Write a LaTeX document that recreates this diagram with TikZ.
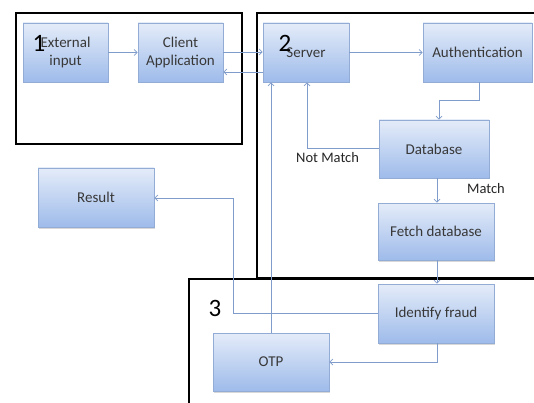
\documentclass[tikz,border=0pt]{standalone}
\usepackage{fontspec}
\setmainfont{Carlito}
\usetikzlibrary{arrows.meta,shadows}
\definecolor{boxtop}{HTML}{E4ECF9}
\definecolor{boxbot}{HTML}{9EBBEA}
\definecolor{boxline}{HTML}{93ACD6}
\definecolor{wire}{HTML}{7F9CCB}
\definecolor{boxtext}{HTML}{383838}
\tikzset{
  stage/.style={draw=boxline, line width=0.6pt, top color=boxtop, bottom color=boxbot,
    text=boxtext, font=\fontsize{15}{18}\selectfont, align=center, inner sep=0pt,
    drop shadow={shadow xshift=1pt, shadow yshift=-1.5pt, opacity=0.25, fill=black!60}},
  wireline/.style={draw=wire, line width=0.7pt, -{Straight Barb[length=3pt,width=6pt]}},
  frame/.style={draw=black, line width=1.8pt},
  tag/.style={font=\fontsize{25}{25}\selectfont, text=black, inner sep=0pt},
  note/.style={font=\fontsize{14.5}{17}\selectfont, text=black!85, inner sep=0pt}
}
\begin{document}
\begin{tikzpicture}[x=1pt,y=-1pt]
\useasboundingbox (0,0) rectangle (534,403);
\fill[white] (0,0) rectangle (534,403);

% stage frames
\draw[frame] (16,13) rectangle (242,144);
\draw[frame] (538,13) -- (257,13) -- (257,278) -- (538,278);
\draw[frame] (189,408) -- (189,279) -- (538,279);

% blocks
\node[stage, minimum width=85pt, minimum height=59pt] (ext) at (65.5,52.5) {External\\input};
\node[stage, minimum width=85pt, minimum height=59pt] (client) at (180.5,52.5) {Client\\Application};
\node[stage, minimum width=86pt, minimum height=59pt] (server) at (306,52.5) {Server};
\node[stage, minimum width=109pt, minimum height=59pt] (auth) at (477.5,52.5) {Authentication};
\node[stage, minimum width=110pt, minimum height=58pt] (db) at (434,149) {Database};
\node[stage, minimum width=116pt, minimum height=57pt] (fetch) at (436,231.5) {Fetch database};
\node[stage, minimum width=116pt, minimum height=59pt] (fraud) at (436,313.5) {Identify fraud};
\node[stage, minimum width=116pt, minimum height=58pt] (otp) at (271,362) {OTP};
\node[stage, minimum width=116pt, minimum height=59pt] (result) at (96,197.5) {Result};

% stage numbers
\node[tag] (n1) at (39,43) {1};
\node[tag] (n2) at (285,43) {2};
\node[tag] (n3) at (215,308) {3};

% connectors
\draw[wireline] (ext.east) -- (client.west);
\draw[wireline] (client.east |- 0,52) -- (server.west |- 0,52);
\draw[wireline] (server.west |- 0,72) -- (client.east |- 0,72);
\draw[wireline] (server.east) -- (auth.west);
\draw[wireline] (auth.south -| 479,0) -- (479,100) -- (439,100) -- (db.north -| 439,0);
\draw[wireline] (db.west |- 0,148) -- (307,148) -- (server.south -| 307,0);
\draw[wireline] (db.south -| 437,0) -- (fetch.north -| 437,0);
\draw[wireline] (fetch.south -| 437,0) -- (fraud.north -| 437,0);
\draw[wireline] (fraud.west |- 0,313) -- (233,313) -- (233,198) -- (result.east |- 0,198);
\draw[wireline] (otp.north -| 271,0) -- (server.south -| 271,0);
\draw[wireline] (fraud.south -| 437,0) -- (437,362) -- (otp.east |- 0,362);

% branch labels
\node[note, anchor=west] (nm) at (296,158) {Not Match};
\node[note, anchor=west] (m) at (467,189) {Match};
\end{tikzpicture}
\end{document}
